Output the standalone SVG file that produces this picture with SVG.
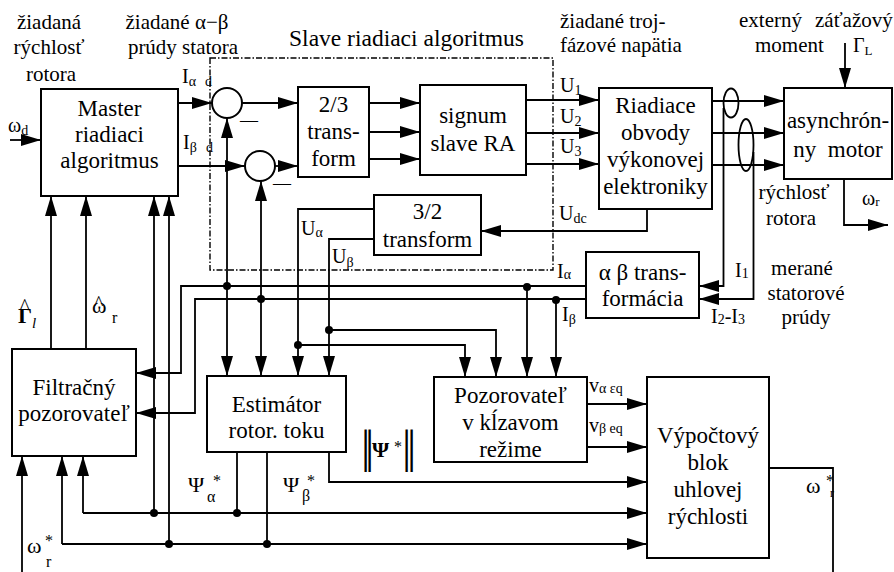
<svg xmlns="http://www.w3.org/2000/svg" width="894" height="572" viewBox="0 0 894 572" font-family="'Liberation Serif', 'Times New Roman', serif">
<style>
.ln{fill:none;stroke:#000;stroke-width:1.8}
.ar{marker-end:url(#a)}
.bx{fill:#fff;stroke:#000;stroke-width:2}
text{font-family:'Liberation Serif','Times New Roman',serif;fill:#000}
.bt{font-size:23px;text-anchor:middle}
.h{font-size:21px}
.hm{font-size:21px;text-anchor:middle}
.lb{font-size:20px}
.dash{fill:none;stroke:#000;stroke-width:1.4;stroke-dasharray:6 2 1.5 2}
</style>
<defs>
<marker id="a" markerWidth="20" markerHeight="12" refX="20" refY="6" orient="auto" markerUnits="userSpaceOnUse"><path d="M0,0 L20,6 L0,12 z" fill="#000"/></marker>
</defs>
<rect width="894" height="572" fill="#fff"/>

<rect id="slave-frame" class="dash" x="210" y="58" width="343" height="212"/>

<g id="connectors">
<path class="ln ar" d="M10,140 H41"/>
<path class="ln ar" d="M178,103 H212"/>
<path class="ln ar" d="M178,166 H245"/>
<path class="ln ar" d="M242,103 H298"/>
<path class="ln ar" d="M275,166 H298"/>
<path class="ln ar" d="M369,103 H420"/>
<path class="ln ar" d="M369,132 H420"/>
<path class="ln ar" d="M369,159 H420"/>
<path class="ln ar" d="M526,100 H599"/>
<path class="ln ar" d="M526,133 H599"/>
<path class="ln ar" d="M523,164 H599"/>
<path class="ln ar" d="M712,101 H784"/>
<path class="ln ar" d="M712,133 H784"/>
<path class="ln ar" d="M712,165 H784"/>
<path class="ln ar" d="M845,43 V88"/>
<path class="ln ar" d="M844,179 V225 H888"/>
<path class="ln ar" d="M723.5,108 V286 H699"/>
<path class="ln ar" d="M753.5,152 V299 H699"/>
<path class="ln ar" d="M647,209 V231 H481"/>
<path class="ln ar" d="M374,209 H298 V376"/>
<path class="ln ar" d="M298,345 H465 V377"/>
<path class="ln ar" d="M374,239 H329 V376"/>
<path class="ln ar" d="M329,330 H496 V377"/>
<path class="ln ar" d="M586,286 H181 V373 H136"/>
<path class="ln ar" d="M586,299 H195 V413 H136"/>
<path class="ln ar" d="M227,286 V118"/>
<path class="ln ar" d="M227,286 V376"/>
<path class="ln ar" d="M261,299 V181"/>
<path class="ln ar" d="M261,299 V376"/>
<path class="ln ar" d="M527,286 V377"/>
<path class="ln ar" d="M556,299 V377"/>
<path class="ln ar" d="M51,349 V196"/>
<path class="ln ar" d="M86,349 V196"/>
<path class="ln ar" d="M154,513 V196"/>
<path class="ln ar" d="M169,544 V196"/>
<path class="ln" d="M237,452 V513"/>
<path class="ln" d="M267,452 V544"/>
<path class="ln ar" d="M83,513 H647"/>
<path class="ln ar" d="M83,513 V456"/>
<path class="ln ar" d="M62,544 H647"/>
<path class="ln ar" d="M62,544 V456"/>
<path class="ln ar" d="M329,452 V482 H647"/>
<path class="ln ar" d="M22,572 V456"/>
<path class="ln ar" d="M587,404 H647"/>
<path class="ln ar" d="M588,447 H647"/>
<path class="ln" d="M767,468 H833 V572"/>
<g fill="#000">
<circle cx="227" cy="286" r="4"/>
<circle cx="527" cy="287" r="4"/>
<circle cx="261" cy="299" r="4"/>
<circle cx="556" cy="300" r="4"/>
<circle cx="298" cy="345" r="4"/>
<circle cx="329" cy="330" r="4"/>
<circle cx="154" cy="513" r="4"/>
<circle cx="237" cy="513" r="4"/>
<circle cx="169" cy="544" r="4"/>
<circle cx="267" cy="544" r="4"/>
</g>
<ellipse cx="731" cy="103" rx="7.5" ry="14.5" class="ln"/>
<ellipse cx="746" cy="145" rx="7.5" ry="26" class="ln"/>
</g>

<g id="master">
<rect class="bx" x="41" y="89" width="137" height="107"/>
<text class="bt" x="109.5" y="116">Master</text>
<text class="bt" x="109.5" y="142">riadiaci</text>
<text class="bt" x="109.5" y="168">algoritmus</text>
</g>
<g id="sum1">
<circle cx="227" cy="103" r="15" fill="#fff" stroke="#000" stroke-width="2"/>
<text x="240" y="126" font-size="18">—</text>
</g>
<g id="sum2">
<circle cx="260" cy="166" r="15" fill="#fff" stroke="#000" stroke-width="2"/>
<text x="273" y="189" font-size="18">—</text>
</g>
<g id="t23">
<rect class="bx" x="298" y="87" width="71" height="90" stroke-width="1.6"/>
<text class="bt" x="333.5" y="112">2/3</text>
<text class="bt" x="333.5" y="139">trans-</text>
<text class="bt" x="333.5" y="166">form</text>
</g>
<g id="signum">
<rect class="bx" x="420" y="85" width="106" height="90" stroke-width="2.4"/>
<text class="bt" x="473" y="123">signum</text>
<text class="bt" x="473" y="151">slave RA</text>
</g>
<g id="riadiace">
<rect class="bx" x="599" y="88" width="113" height="121"/>
<text class="bt" x="655.5" y="113">Riadiace</text>
<text class="bt" x="655.5" y="140">obvody</text>
<text class="bt" x="655.5" y="167">výkonovej</text>
<text class="bt" x="655.5" y="194">elektroniky</text>
</g>
<g id="motor">
<rect class="bx" x="784" y="88" width="108" height="91"/>
<text class="bt" x="838" y="128">asynchrón-</text>
<text class="bt" x="838" y="157">ny&#160; motor</text>
</g>
<g id="t32">
<rect class="bx" x="374" y="195" width="107" height="60"/>
<text class="bt" x="427.5" y="219">3/2</text>
<text class="bt" x="427.5" y="247">transform</text>
</g>
<g id="ab">
<rect class="bx" x="586" y="252" width="113" height="66"/>
<text class="bt" x="642.5" y="280">α β trans-</text>
<text class="bt" x="642.5" y="306">formácia</text>
</g>
<g id="filter">
<rect class="bx" x="12" y="349" width="124" height="107"/>
<text class="bt" x="74" y="395">Filtračný</text>
<text class="bt" x="74" y="421">pozorovateľ</text>
</g>
<g id="estimator">
<rect class="bx" x="207" y="376" width="139" height="76"/>
<text class="bt" x="276.5" y="412">Estimátor</text>
<text class="bt" x="276.5" y="438">rotor. toku</text>
</g>
<g id="pozorovatel">
<rect class="bx" x="434" y="377" width="153" height="85"/>
<text class="bt" x="510.5" y="403">Pozorovateľ</text>
<text class="bt" x="510.5" y="430">v kĺzavom</text>
<text class="bt" x="510.5" y="457">režime</text>
</g>
<g id="vypoctovy">
<rect class="bx" x="647" y="377" width="122" height="181"/>
<text class="bt" x="708" y="443">Výpočtový</text>
<text class="bt" x="708" y="470">blok</text>
<text class="bt" x="708" y="497">uhlovej</text>
<text class="bt" x="708" y="524">rýchlosti</text>
</g>

<g id="labels">
<text class="hm" x="49" y="29">žiadaná</text>
<text class="hm" x="49" y="54">rýchlosť</text>
<text class="hm" x="51" y="81">rotora</text>
<text class="hm" x="177" y="29">žiadané α−β</text>
<text class="hm" x="183" y="54">prúdy statora</text>
<text x="406.5" y="46" font-size="23.5" text-anchor="middle">Slave riadiaci algoritmus</text>
<text class="h" x="560" y="28">žiadané troj-</text>
<text class="h" x="560" y="52">fázové napätia</text>
<text class="h" x="739" y="27">externý<tspan x="815">záťažový</tspan></text>
<text class="h" x="755" y="52">moment</text>
<text class="lb" x="853" y="52">Γ<tspan font-size="13" dy="3">L</tspan></text>
<text class="lb" x="8" y="132">ω<tspan font-size="14" dy="3">d</tspan></text>
<text class="lb" x="182" y="83">I<tspan font-size="14" dy="3">α</tspan><tspan font-size="14" x="205">d</tspan></text>
<text class="lb" x="183" y="149">I<tspan font-size="14" dy="3">β</tspan><tspan font-size="14" x="206">d</tspan></text>
<text class="lb" x="560" y="92">U<tspan font-size="14" dy="3">1</tspan></text>
<text class="lb" x="560" y="123">U<tspan font-size="14" dy="3">2</tspan></text>
<text class="lb" x="560" y="153">U<tspan font-size="14" dy="3">3</tspan></text>
<text class="lb" x="559" y="220">U<tspan font-size="14" dy="3">dc</tspan></text>
<text class="lb" x="301" y="235">U<tspan font-size="14" dy="2">α</tspan></text>
<text class="lb" x="332" y="263">U<tspan font-size="14" dy="4">β</tspan></text>
<text class="lb" x="557" y="278">I<tspan font-size="14" dy="1">α</tspan></text>
<text class="lb" x="562" y="321">I<tspan font-size="14" dy="3">β</tspan></text>
<text class="lb" x="735" y="277">I<tspan font-size="14" dy="1">1</tspan></text>
<text class="lb" x="711" y="323">I<tspan font-size="14" dy="1">2</tspan><tspan dy="-1">-I</tspan><tspan font-size="14" dy="1">3</tspan></text>
<text class="hm" x="794" y="199">rýchlosť</text>
<text class="hm" x="791" y="225">rotora</text>
<text class="lb" x="862" y="205">ω<tspan font-size="13" dy="1">r</tspan></text>
<text class="hm" x="802" y="275">merané</text>
<text class="hm" x="806" y="300">statorové</text>
<text class="hm" x="806" y="324">prúdy</text>
<text x="18" y="323" font-size="22" font-weight="bold">Γ<tspan font-weight="normal" font-style="italic" font-size="15" dy="5">l</tspan></text>
<text x="20" y="313" font-size="20">^</text>
<text x="92" y="313" font-size="22">ω<tspan font-size="16" x="112" y="323">r</tspan></text>
<text x="94" y="310" font-size="20">^</text>
<text x="188" y="492" font-size="22">Ψ<tspan font-size="16" x="213" y="486">*</tspan><tspan font-size="16" x="207" y="502">α</tspan></text>
<text x="283" y="492" font-size="22">Ψ<tspan font-size="16" x="307" y="486">*</tspan><tspan font-size="16" x="302" y="501">β</tspan></text>
<text font-size="46"><tspan x="361" y="462">|</tspan><tspan x="365" y="462">|</tspan><tspan x="372" y="457" font-size="22" font-weight="bold">Ψ</tspan><tspan x="394" y="452" font-size="16">*</tspan><tspan x="402" y="462">|</tspan><tspan x="407" y="462">|</tspan></text>
<text class="lb" x="589" y="392">v<tspan font-size="14" dy="1">α εq</tspan></text>
<text class="lb" x="589" y="432">v<tspan font-size="14" dy="1">β eq</tspan></text>
<text x="27" y="553" font-size="22">ω<tspan font-size="16" x="45" y="546">*</tspan><tspan font-size="16" x="46" y="567">r</tspan></text>
<text x="806" y="493" font-size="22">ω<tspan font-size="16" x="826" y="486">*</tspan><tspan font-size="12" x="830" y="497">r</tspan></text>
</g>
</svg>
